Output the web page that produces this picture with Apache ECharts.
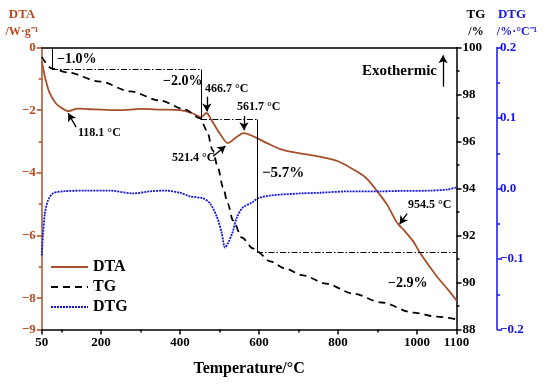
<!DOCTYPE html>
<html><head><meta charset="utf-8">
<script src="https://cdn.jsdelivr.net/npm/echarts@6/dist/echarts.min.js"></script>
<style>html,body{margin:0;padding:0;background:#fff}#c{width:550px;height:388px}</style>
</head><body><div id="c"></div>
<script>
// ---- data ----
const dtaT = [50,55,60,70,85,100,118,140,170,200,250,300,350,400,430,453,466.7,480,500,521.4,540,561.7,590,620,660,700,760,800,840,870,900,925,945,954.5,965,990,1010,1050,1080,1100];
const dtaV = [-0.45,-0.75,-1.04,-1.45,-1.77,-1.93,-2.03,-1.95,-1.97,-1.98,-2.0,-1.96,-1.98,-2.0,-2.09,-2.22,-2.09,-2.32,-2.73,-3.05,-2.89,-2.73,-2.86,-3.05,-3.27,-3.37,-3.5,-3.63,-3.9,-4.15,-4.6,-5.03,-5.5,-5.67,-5.8,-6.18,-6.6,-7.3,-7.75,-8.07];
const tgT = [50,76,114,198,274,350,413,451,468,483,496,509,521,534,557,585,595,628,665,712,770,838,910,990,1050,1100];
const tgV = [99.6,99.1,98.94,98.55,98.13,97.74,97.36,96.98,96.47,95.62,94.89,94.04,93.36,92.64,91.91,91.45,91.32,90.9,90.6,90.3,89.95,89.53,89.15,88.72,88.55,88.43];
const dtgT = [50,53,58,66,78,104,165,223,282,324,362,400,425,458,476,494,506,514,521,532,544,559,582,597,628,704,755,830,906,957,1033,1076,1100];
const dtgV = [-0.095,-0.067,-0.035,-0.017,-0.007,-0.004,-0.003,-0.003,-0.007,-0.004,-0.003,-0.006,-0.011,-0.014,-0.021,-0.041,-0.064,-0.084,-0.078,-0.064,-0.041,-0.027,-0.020,-0.014,-0.010,-0.007,-0.006,-0.004,-0.004,-0.0035,-0.003,-0.0015,0.0015];
// mass-loss steps (TG)
const stepTemps = [76,453,595];
const stepLevels = [100,99.06,96.94,91.28];
// annotation arrows in DTA units: [tailT, tailV, headT, headV]
const dtaArrows = [[137,-2.54,117,-2.1],[468,-1.57,468,-2.04],[562,-2.19,562,-2.64],[484,-3.47,515,-3.14],[975,-5.3,956,-5.64],[1066,-1.25,1066,-0.25]];
// tick labels
const xLabels = [50,200,400,600,800,1000,1100];
const xMinor = [100,300,500,700,900];
const dtaLabels = [0,-2,-4,-6,-8,-9];
const dtaMinor = [-1,-3,-5,-7];

const FONT = '"Liberation Serif","Times New Roman",serif';
const BROWN = '#A5502A';
const BROWN_T = '#B8481E';
const BLUE = '#1414E6';
const minus = v => String(v).replace('-', '\u2212');
const zip = (a,b) => a.map((x,i)=>[x,b[i]]);

// step markLines
const stepLines = [];
for (let i = 0; i < stepTemps.length; i++) {
  const t = stepTemps[i];
  stepLines.push([{coord:[t, stepLevels[i]], lineStyle:{type:'solid'}}, {coord:[t, stepLevels[i+1]]}]);
  const tEnd = i+1 < stepTemps.length ? stepTemps[i+1] : 1100;
  stepLines.push([{coord:[t, stepLevels[i+1]], lineStyle:{type:[6,2,1.5,2]}}, {coord:[tEnd, stepLevels[i+1]]}]);
}
const arrowLines = dtaArrows.map(a => [{coord:[a[0],a[1]]},{coord:[a[2],a[3]]}]);

const chart = echarts.init(document.getElementById('c'), null, {renderer:'canvas'});
const grid = {left:41.75, right:93.5, top:47.5, bottom:58.5};
const lblStyle = {fontFamily:FONT, fontWeight:'bold', fontSize:13, color:'#000'};

function txt(text, x, y, size, color, align) {
  return {type:'text', x:x, y:y, silent:true, style:{text:text, fontFamily:FONT, fontWeight:'bold', fontSize:size, fill:color||'#000', align:align||'left', verticalAlign:'middle'}};
}

chart.setOption({
  animation:false,
  backgroundColor:'#fff',
  grid: grid,
  xAxis: [
    {type:'value', min:50, max:1100, position:'bottom',
     axisLine:{onZero:false, lineStyle:{color:'#000', width:1.5}},
     axisTick:{show:true, inside:false, length:5, customValues:xLabels, lineStyle:{color:'#000', width:1.5}},
     axisLabel:{customValues:xLabels, ...lblStyle, margin:7, formatter:v=>String(v)},
     splitLine:{show:false},
     name:'Temperature/°C', nameLocation:'middle', nameGap:31,
     nameTextStyle:{fontFamily:FONT, fontWeight:'bold', fontSize:16, color:'#000'}},
    {type:'value', min:50, max:1100, position:'bottom',
     axisLine:{show:false, onZero:false},
     axisTick:{show:true, length:3, customValues:xMinor, lineStyle:{color:'#000', width:1.5}},
     axisLabel:{show:false}, splitLine:{show:false}},
    {type:'value', min:50, max:1100, position:'top',
     axisLine:{onZero:false, lineStyle:{color:'#000', width:1.5}},
     axisTick:{show:false}, axisLabel:{show:false}, splitLine:{show:false}}
  ],
  yAxis: [
    {type:'value', min:-9, max:0, position:'left',
     axisLine:{show:true, onZero:false, lineStyle:{color:BROWN, width:1.5}},
     axisTick:{show:true, length:5, customValues:dtaLabels, lineStyle:{color:BROWN, width:1.5}},
     axisLabel:{customValues:dtaLabels, ...lblStyle, color:BROWN_T, margin:6, formatter:v=>minus(v)},
     splitLine:{show:false}},
    {type:'value', min:88, max:100, interval:2, position:'right',
     axisLine:{show:true, onZero:false, lineStyle:{color:'#000', width:1.5}},
     axisTick:{show:true, length:5, lineStyle:{color:'#000', width:1.5}},
     minorTick:{show:true, splitNumber:2, length:3, lineStyle:{color:'#000', width:1.5}},
     axisLabel:{...lblStyle, margin:6},
     splitLine:{show:false}, minorSplitLine:{show:false}},
    {type:'value', min:-0.2, max:0.2, interval:0.1, position:'right', offset:40.5,
     axisLine:{show:true, onZero:false, lineStyle:{color:BLUE, width:1.5}},
     axisTick:{show:true, length:5, lineStyle:{color:BLUE, width:1.5}},
     minorTick:{show:true, splitNumber:2, length:3, lineStyle:{color:BLUE, width:1.5}},
     axisLabel:{...lblStyle, color:BLUE, margin:3, formatter:v=>minus(v.toFixed(1))},
     splitLine:{show:false}, minorSplitLine:{show:false}},
    {type:'value', min:-9, max:0, position:'left',
     axisLine:{show:false, onZero:false},
     axisTick:{show:true, length:3, customValues:dtaMinor, lineStyle:{color:BROWN, width:1.5}},
     axisLabel:{show:false}, splitLine:{show:false}}
  ],
  legend: {
    data:['DTA','TG','DTG'], orient:'vertical', left:50, top:259, padding:0,
    itemWidth:37, itemHeight:14, itemGap:4,
    itemStyle:{opacity:0},
    textStyle:{fontFamily:FONT, fontWeight:'bold', fontSize:16, color:'#000'}
  },
  series: [
    {name:'DTA', type:'line', xAxisIndex:0, yAxisIndex:0, data:zip(dtaT,dtaV), showSymbol:false, symbol:'none',
     smooth:0.3, lineStyle:{color:BROWN, width:1.8}, itemStyle:{color:BROWN},
     markLine:{silent:true, symbol:['none','arrow'], symbolSize:[7,8], label:{show:false},
       lineStyle:{color:'#000', width:1.3, type:'solid'}, emphasis:{disabled:true}, data:arrowLines}},
    {name:'TG', type:'line', xAxisIndex:0, yAxisIndex:1, data:zip(tgT,tgV), showSymbol:false, symbol:'none',
     smooth:0.3, smoothMonotone:'x', lineStyle:{color:'#000', width:1.8, type:[7,5]}, itemStyle:{color:'#000'},
     markLine:{silent:true, symbol:['none','none'], label:{show:false},
       lineStyle:{color:'#000', width:1}, emphasis:{disabled:true}, data:stepLines}},
    {name:'DTG', type:'line', xAxisIndex:0, yAxisIndex:2, data:zip(dtgT,dtgV), showSymbol:false, symbol:'none',
     smooth:0.3, lineStyle:{color:BLUE, width:1.8, type:[2,1]}, itemStyle:{color:BLUE}}
  ],
  graphic: [
    txt('DTA', 22, 15, 13, BROWN_T, 'center'),
    txt('/W·g⁻¹', 22, 32, 12, BROWN_T, 'center'),
    txt('TG', 476, 15, 13, '#000', 'center'),
    txt('/%', 476, 32, 12, '#000', 'center'),
    txt('DTG', 512, 15, 13, BLUE, 'center'),
    txt('/%·°C⁻¹', 517, 32, 12, BLUE, 'center'),
    txt('\u22121.0%', 57, 59, 14),
    txt('\u22122.0%', 163, 81, 14),
    txt('466.7 °C', 205, 89, 12),
    txt('561.7 °C', 237, 107, 12),
    txt('118.1 °C', 78, 133, 12),
    txt('521.4 °C', 172, 158, 12),
    txt('\u22125.7%', 262, 173, 15),
    txt('954.5 °C', 408, 205, 12),
    txt('\u22122.9%', 388, 283, 14),
    txt('Exothermic', 362, 71, 15)
  ]
});
</script>
</body></html>
